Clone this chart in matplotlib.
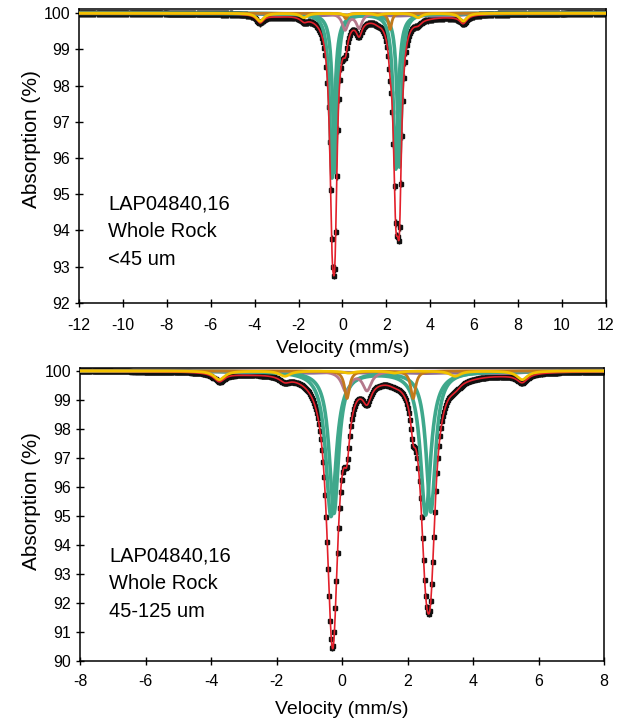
import matplotlib.pyplot as plt
import numpy as np

plt.rcParams['font.family'] = ['Liberation Sans', 'DejaVu Sans']
plt.rcParams['axes.unicode_minus'] = False

# --- fitted sub-spectra ------------------------------------------------
# each component: line centres (mm/s), line depths (% absorption), HWHM (mm/s)
mauve_pos = [0.12, 0.76]
brown_pos = [0.15, 2.17]
yellow_pos = [-3.75, -1.75, 0.20, 1.60, 3.45, 5.50]
broad_pos = [-3.0, -1.0, 1.0, 2.5, 4.0, 5.0]

# top panel (<45 um)
top_teal_a_pos = [-0.47, 2.43]
top_teal_b_pos = [-0.34, 2.595]
top_teal_a = [4.55, 4.30]
top_teal_b = [4.40, 4.25]
top_teal_w = 0.135
top_mauve = [0.45, 0.40]
top_brown = [0.15, 0.45]
top_yellow = [0.22, 0.12, 0.05, 0.05, 0.12, 0.22]
top_broad = [0.05, 0.05, 0.05, 0.05, 0.05, 0.05]

# bottom panel (45-125 um)
bot_teal_a_pos = [-0.34, 2.55]
bot_teal_b_pos = [-0.25, 2.71]
bot_teal_a = [5.00, 4.95]
bot_teal_b = [4.90, 4.85]
bot_teal_w = 0.19
bot_mauve = [0.70, 0.65]
bot_brown = [0.95, 0.95]
bot_yellow = [0.30, 0.18, 0.07, 0.07, 0.18, 0.30]
bot_broad = [0.06, 0.06, 0.06, 0.06, 0.06, 0.06]

top_range = (-12, 12)
bot_range = (-8, 8)
n_channels = 512

TEAL = '#3fa88c'
RED = '#e3202b'
MAUVE = '#b5788c'
BROWN = '#c27a1c'
YELLOW = '#f2c200'
BROAD = '#8e6f95'


def lines(v, pos, depth, hw):
    out = np.zeros_like(v)
    for c, d in zip(pos, depth):
        out += d / (1 + ((v - c) / hw) ** 2)
    return out


def panel(ax, vrange, tpos_a, tpos_b, teal_a, teal_b, tw, mauve, brown,
          yellow, broad, xticks, yticks, label, pads):
    v = np.linspace(vrange[0], vrange[1], 2000)
    ch = np.linspace(vrange[0], vrange[1], n_channels)

    comps = [
        (broad_pos, broad, 0.7, BROAD, 2.2, 3),
        (tpos_a, teal_a, tw, TEAL, 2.6, 3),
        (tpos_b, teal_b, tw * 0.9, TEAL, 2.6, 3),
        (mauve_pos, mauve, 0.16, MAUVE, 2.0, 4),
        (brown_pos, brown, 0.09, BROWN, 2.0, 4),
        (yellow_pos, yellow, 0.2, YELLOW, 2.0, 6),
    ]

    def total(x):
        return 100 - sum(lines(x, p, d, w) for p, d, w, _, _, _ in comps)

    data = total(ch)
    ax.errorbar(ch, data, yerr=0.1, fmt='s', ms=2.8, color='#111111',
                ecolor='#111111', elinewidth=1.0, capsize=0, zorder=2)
    for p, d, w, col, lw, z in comps:
        ax.plot(v, 100 - lines(v, p, d, w), color=col, lw=lw, zorder=z)
    ax.plot(v, total(v), color=RED, lw=1.2, zorder=5)

    ax.set_xlim(vrange)
    ax.set_xticks(xticks)
    ax.set_yticks(yticks)
    ax.tick_params(direction='inout', length=6, width=1.0, labelsize=11.5)
    ax.tick_params(axis='x', pad=pads[0])
    for s in ax.spines.values():
        s.set_linewidth(1.1)
    ax.set_xlabel('Velocity (mm/s)', fontsize=14, labelpad=pads[1])
    ax.set_ylabel('Absorption (%)', fontsize=15)
    ax.yaxis.set_label_coords(pads[3], pads[2])
    ax.text(0.055, label[1], label[0], transform=ax.transAxes, fontsize=14.5,
            va='top', ha='left', linespacing=1.58)


fig = plt.figure(figsize=(6.17, 7.26), dpi=100)
ax1 = fig.add_axes([0.128, 0.583, 0.854, 0.405])
ax2 = fig.add_axes([0.130, 0.0895, 0.849, 0.4036])

panel(ax1, top_range, top_teal_a_pos, top_teal_b_pos, top_teal_a, top_teal_b,
      top_teal_w, top_mauve, top_brown, top_yellow, top_broad,
      np.arange(-12, 13, 2), np.arange(92, 101, 1),
      ('LAP04840,16\nWhole Rock\n<45 um', 0.368), (8, 5, 0.555, -0.073))
ax1.set_ylim(92, 100.125)

panel(ax2, bot_range, bot_teal_a_pos, bot_teal_b_pos, bot_teal_a, bot_teal_b,
      bot_teal_w, bot_mauve, bot_brown, bot_yellow, bot_broad,
      np.arange(-8, 9, 2), np.arange(90, 101, 1),
      ('LAP04840,16\nWhole Rock\n45-125 um', 0.39), (6, 9, 0.545, -0.075))
ax2.set_ylim(90, 100.1)

fig.savefig('out.png', dpi=100)
